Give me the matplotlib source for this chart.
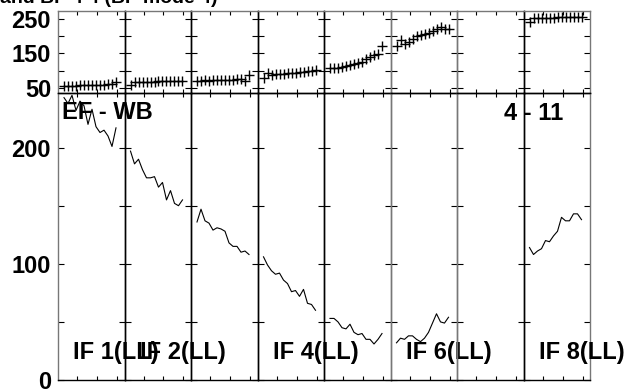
import matplotlib
matplotlib.use("Agg")
import matplotlib.pyplot as plt

plt.rcParams['font.family'] = ['Liberation Sans', 'DejaVu Sans']
plt.rcParams['font.weight'] = 'bold'

# x-Positionen der Messpunkte innerhalb eines Feldes
x_pts = [0.35, 0.55, 0.75, 0.95, 1.15, 1.35, 1.55, 1.75, 1.95, 2.15, 2.35, 2.55, 2.75, 2.95]

# obere Reihe (Marker)
top_vals = [
    [55, 55, 56, 56, 57, 57, 58, 58, 58, 59, 59, 60, 61, 66],
    [59, 68, 66, 67, 67, 68, 68, 69, 69, 70, 70, 71, 71, 71],
    [71, 71, 72, 71, 72, 72, 73, 73, 74, 74, 75, 76, 70, 88],
    [78, 93, 88, 89, 90, 91, 92, 93, 94, 96, 97, 98, 100, 102],
    [109, 109, 107, 111, 114, 117, 120, 122, 124, 133, 139, 146, 148, 170],
    [170, 190, 178, 183, 193, 199, 204, 206, 210, 214, 220, 228, 222, 222],
    None,
    [240, 253, 254, 254, 254, 254, 254, 255, 255, 256, 255, 255, 256, 257],
]

# untere Reihe (Linien)
bottom_vals = [
    [243, 238, 245, 232, 240, 236, 220, 233, 218, 213, 215, 210, 201, 217],
    [197, 186, 190, 181, 174, 174, 175, 166, 170, 155, 163, 152, 150, 155],
    [136, 147, 137, 135, 129, 131, 130, 128, 118, 115, 115, 110, 111, 108],
    [106, 99, 94, 91, 92, 86, 83, 76, 77, 72, 78, 66, 65, 60],
    [53, 53, 50, 45, 44, 48, 41, 39, 40, 35, 35, 31, 35, 40],
    [32, 36, 35, 38, 38, 35, 33, 36, 41, 49, 57, 50, 49, 54],
    None,
    [114, 108, 111, 113, 120, 119, 124, 128, 140, 137, 137, 143, 143, 138],
]

panel_labels = ['IF 1(LL)', 'IF 2(LL)', '', 'IF 4(LL)', '', 'IF 6(LL)', '', 'IF 8(LL)']

top_ticks = [50, 100, 150, 200, 250]
top_ticklabels = ['50', '', '150', '', '250']
bottom_ticks = [0, 50, 100, 150, 200]
bottom_ticklabels = ['0', '', '100', '', '200']

W, H = 629, 389
fig = plt.figure(figsize=(W / 100, H / 100), dpi=100)

left0 = 58
pw = 66.5
spine_grey = [True, False, False, False, False, True, True, False, True]


def style(ax, k):
    ax.set_facecolor('none')
    ax.set_xlim(0.05, 3.375)
    ax.set_xticks([1, 2, 3])
    ax.tick_params(axis='x', direction='in', length=3, width=0.8,
                   top=True, bottom=True, labelbottom=False)
    ax.tick_params(axis='y', direction='in', length=4.5, width=0.8,
                   left=True, right=True, labelsize=17, pad=5)
    for s in ax.spines.values():
        s.set_linewidth(1.0)
        s.set_color('black')
    ax.spines['left'].set_color('#777777' if spine_grey[k] else 'black')
    ax.spines['right'].set_color('#777777' if spine_grey[k + 1] else 'black')


for k in range(8):
    x0 = (left0 + pw * k) / W
    # oberes Feld
    axt = fig.add_axes([x0, 1 - 93 / H, pw / W, 82 / H])
    style(axt, k)
    axt.spines['top'].set_color('#777777')
    axt.set_ylim(35, 273)
    axt.set_yticks(top_ticks)
    if top_vals[k] is not None:
        axt.plot(x_pts, top_vals[k], linestyle='none', marker='+',
                 markersize=7, markeredgewidth=1.0, color='black')
    # unteres Feld
    axb = fig.add_axes([x0, 1 - 380 / H, pw / W, 287 / H])
    style(axb, k)
    axb.set_ylim(0, 247)
    axb.set_yticks(bottom_ticks)
    if bottom_vals[k] is not None:
        axb.plot(x_pts, bottom_vals[k], color='black', linewidth=0.8)
    if panel_labels[k]:
        axb.text(0.233, 0.073, panel_labels[k], transform=axb.transAxes,
                 fontsize=17, fontweight='bold', ha='left', va='baseline')
    if k == 0:
        axt.set_yticklabels(top_ticklabels, fontweight='bold')
        axb.set_yticklabels(bottom_ticklabels, fontweight='bold')
        axb.text(0.06, 0.909, 'EF - WB', transform=axb.transAxes,
                 fontsize=17, fontweight='bold', ha='left', va='baseline')
    else:
        axt.set_yticklabels([])
        axb.set_yticklabels([])

fig.text(563 / W, 1 - 120 / H, '4 - 11', fontsize=17, fontweight='bold',
         ha='right', va='baseline')
fig.text(0, 1 - 3 / H, 'and BP 4 4 (BP mode 4)', fontsize=14,
         fontweight='bold', ha='left', va='baseline')

plt.savefig('out.png', dpi=100)
